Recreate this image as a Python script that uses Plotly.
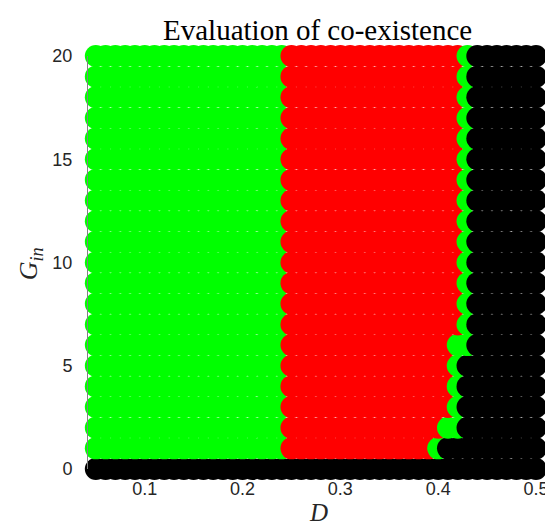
import plotly.graph_objects as go

# Dilution rate D (x) and inflow concentration G_in (y)
D_values = [0.05, 0.06, 0.07, 0.08, 0.09, 0.10, 0.11, 0.12, 0.13, 0.14,
            0.15, 0.16, 0.17, 0.18, 0.19, 0.20, 0.21, 0.22, 0.23, 0.24,
            0.25, 0.26, 0.27, 0.28, 0.29, 0.30, 0.31, 0.32, 0.33, 0.34,
            0.35, 0.36, 0.37, 0.38, 0.39, 0.40, 0.41, 0.42, 0.43, 0.44,
            0.45, 0.46, 0.47, 0.48, 0.49, 0.50]
G_values = [0, 1, 2, 3, 4, 5, 6, 7, 8, 9, 10, 11, 12, 13, 14, 15, 16, 17, 18, 19, 20]

# Outcome per grid point (one string per G row, one char per D column)
# g = green, r = red, k = black
outcome_rows = [
    "kkkkkkkkkkkkkkkkkkkkkkkkkkkkkkkkkkkkkkkkkkkkkk",  # G=0
    "ggggggggggggggggggggrrrrrrrrrrrrrrrgkkkkkkkkkk",  # G=1
    "ggggggggggggggggggggrrrrrrrrrrrrrrrrggkkkkkkkk",  # G=2
    "ggggggggggggggggggggrrrrrrrrrrrrrrrrrgkkkkkkkk",  # G=3
    "ggggggggggggggggggggrrrrrrrrrrrrrrrrrgkkkkkkkk",  # G=4
    "ggggggggggggggggggggrrrrrrrrrrrrrrrrrgkkkkkkkk",  # G=5
    "ggggggggggggggggggggrrrrrrrrrrrrrrrrrggkkkkkkk",  # G=6
    "ggggggggggggggggggggrrrrrrrrrrrrrrrrrrgkkkkkkk",  # G=7
    "ggggggggggggggggggggrrrrrrrrrrrrrrrrrrgkkkkkkk",  # G=8
    "ggggggggggggggggggggrrrrrrrrrrrrrrrrrrgkkkkkkk",  # G=9
    "ggggggggggggggggggggrrrrrrrrrrrrrrrrrrgkkkkkkk",  # G=10
    "ggggggggggggggggggggrrrrrrrrrrrrrrrrrrgkkkkkkk",  # G=11
    "ggggggggggggggggggggrrrrrrrrrrrrrrrrrrgkkkkkkk",  # G=12
    "ggggggggggggggggggggrrrrrrrrrrrrrrrrrrgkkkkkkk",  # G=13
    "ggggggggggggggggggggrrrrrrrrrrrrrrrrrrgkkkkkkk",  # G=14
    "ggggggggggggggggggggrrrrrrrrrrrrrrrrrrgkkkkkkk",  # G=15
    "ggggggggggggggggggggrrrrrrrrrrrrrrrrrrgkkkkkkk",  # G=16
    "ggggggggggggggggggggrrrrrrrrrrrrrrrrrrgkkkkkkk",  # G=17
    "ggggggggggggggggggggrrrrrrrrrrrrrrrrrrgkkkkkkk",  # G=18
    "ggggggggggggggggggggrrrrrrrrrrrrrrrrrrgkkkkkkk",  # G=19
    "ggggggggggggggggggggrrrrrrrrrrrrrrrrrrgkkkkkkk",  # G=20
]

x_ticks = [0.1, 0.2, 0.3, 0.4, 0.5]
x_tick_labels = ["0.1", "0.2", "0.3", "0.4", "0.5"]
y_ticks = [0, 5, 10, 15, 20]
y_tick_labels = ["0", "5", "10", "15", "20"]

title_text = "Evaluation of co-existence"
x_title = "<i>D</i>"
y_title = "<i>G</i><sub><i>in</i></sub>"

palette = {"g": "#00ff00", "r": "#ff0000", "k": "#000000"}

xs, ys, cs = [], [], []
for G, row in zip(G_values, outcome_rows):
    for D, code in zip(D_values, row):
        xs.append(D)
        ys.append(G)
        cs.append(palette[code])

fig = go.Figure(go.Scatter(
    x=xs, y=ys, mode="markers",
    marker=dict(size=22, color=cs, line=dict(width=0), opacity=1),
    cliponaxis=False, hoverinfo="skip", showlegend=False,
))

W, H = 553, 522
L, R, T, B = 80, 15, 48, 61
pw, ph = W - L - R, H - T - B

def px(xp):
    return (xp - L) / pw

def py(yp):
    return (H - B - yp) / ph

tick_font = dict(family="Liberation Sans, Arial, sans-serif", size=18, color="#262626")
serif = "Liberation Serif, Times New Roman, serif"

fig.update_layout(
    width=W, height=H,
    margin=dict(l=L, r=R, t=T, b=B, pad=0),
    plot_bgcolor="white", paper_bgcolor="white",
    xaxis=dict(range=[0.042, 0.5], tickvals=x_ticks, ticktext=x_tick_labels,
               showgrid=False, zeroline=False, showline=False, ticks="",
               tickfont=tick_font, ticklabelstandoff=7),
    yaxis=dict(range=[0, 20], tickvals=y_ticks, ticktext=y_tick_labels,
               showgrid=False, zeroline=False, showline=True, linecolor="#808080",
               linewidth=1, ticks="", tickfont=tick_font, ticklabelstandoff=11),
    annotations=[
        dict(text=title_text, xref="paper", yref="paper", x=px(315), y=py(22),
             xanchor="center", yanchor="middle", showarrow=False,
             font=dict(family=serif, size=29, color="black")),
        dict(text=x_title, xref="paper", yref="paper", x=px(316), y=py(504),
             xanchor="center", yanchor="middle", showarrow=False,
             font=dict(family=serif, size=25, color="#262626")),
        dict(text=y_title, xref="paper", yref="paper", x=px(21), y=py(256),
             xanchor="center", yanchor="middle", showarrow=False, textangle=-90,
             font=dict(family=serif, size=26, color="#262626")),
    ],
)

fig.write_html("out.html")
